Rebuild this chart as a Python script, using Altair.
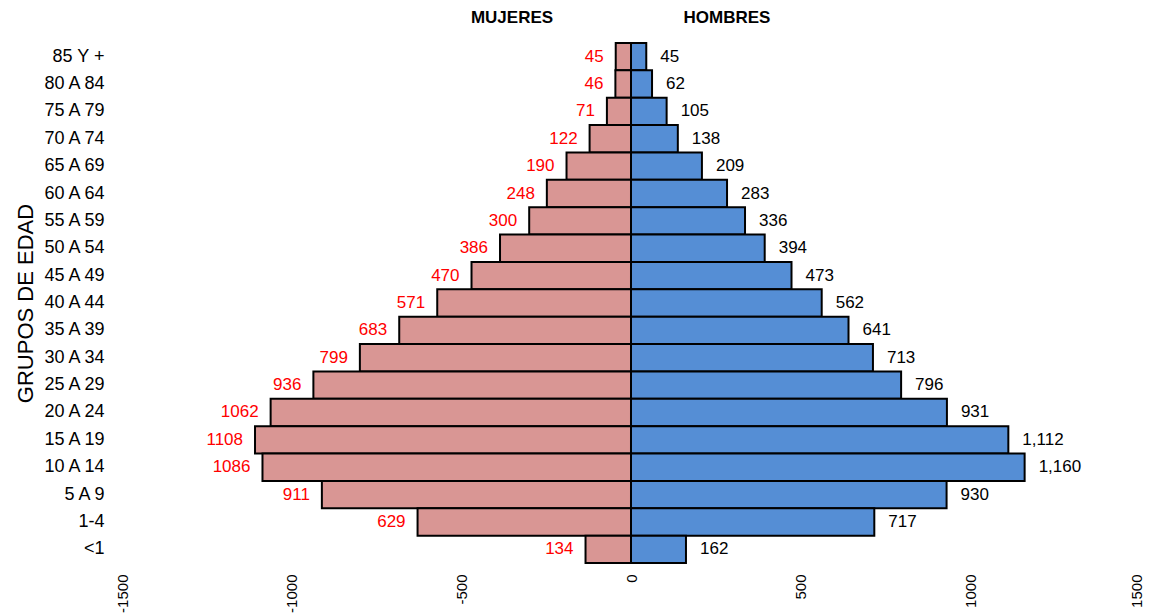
import altair as alt
import pandas as pd

groups = ["85 Y +", "80 A 84", "75 A 79", "70 A 74", "65 A 69", "60 A 64", "55 A 59",
          "50 A 54", "45 A 49", "40 A 44", "35 A 39", "30 A 34", "25 A 29", "20 A 24",
          "15 A 19", "10 A 14", "5 A 9", "1-4", "<1"]
mujeres = [45, 46, 71, 122, 190, 248, 300, 386, 470, 571, 683, 799, 936, 1062,
           1108, 1086, 911, 629, 134]
hombres = [45, 62, 105, 138, 209, 283, 336, 394, 473, 562, 641, 713, 796, 931,
           1112, 1160, 930, 717, 162]
x_ticks = [-1500, -1000, -500, 0, 500, 1000, 1500]

rows = []
for g, m, h in zip(groups, mujeres, hombres):
    rows.append({"grupo": g, "sexo": "MUJERES", "valor": m, "pos": -m})
    rows.append({"grupo": g, "sexo": "HOMBRES", "valor": h, "pos": h})
df = pd.DataFrame(rows)

FONT = "Liberation Sans"

xscale = alt.Scale(domain=[-1500, 1500], nice=False, zero=False)
yscale = alt.Scale(domain=groups, paddingInner=0, paddingOuter=0)

x_axis = alt.Axis(values=x_ticks, labelAngle=-90, ticks=False, tickSize=0,
                  domain=False, grid=False, labelFontSize=15, labelFont=FONT,
                  labelColor="black", labelPadding=11,
                  labelOffset={"condition": {"test": "datum.value == 1500", "value": -4},
                               "value": 0},
                  labelExpr="datum.value + ''", title=None)
y_axis = alt.Axis(title="GRUPOS DE EDAD", ticks=False, tickSize=0, domain=False,
                  grid=False, labelFontSize=18, labelFont=FONT, labelColor="black",
                  labelPadding=18, titleFontSize=22, titleFont=FONT,
                  titleFontWeight="normal", titleColor="black", titlePadding=4)

base = alt.Chart(df)

bars = base.mark_bar(stroke="black", strokeWidth=2).encode(
    x=alt.X("pos:Q", scale=xscale, axis=x_axis),
    y=alt.Y("grupo:N", scale=yscale, sort=groups, axis=y_axis),
    color=alt.Color("sexo:N",
                    scale=alt.Scale(domain=["MUJERES", "HOMBRES"],
                                    range=["#D99694", "#558ED5"]),
                    legend=None),
)

txt_m = base.transform_filter(alt.datum.sexo == "MUJERES").mark_text(
    align="right", baseline="middle", dx=-12, color="#FF0000", fontSize=17, font=FONT
).encode(
    x=alt.X("pos:Q", scale=xscale, axis=x_axis),
    y=alt.Y("grupo:N", scale=yscale, sort=groups, axis=y_axis),
    text=alt.Text("valor:Q", format="d"),
)

txt_h = base.transform_filter(alt.datum.sexo == "HOMBRES").mark_text(
    align="left", baseline="middle", dx=14, color="black", fontSize=17, font=FONT
).encode(
    x=alt.X("pos:Q", scale=xscale, axis=x_axis),
    y=alt.Y("grupo:N", scale=yscale, sort=groups, axis=y_axis),
    text=alt.Text("valor:Q", format=","),
)

headers = pd.DataFrame({"label": ["MUJERES", "HOMBRES"]})
head_m = alt.Chart(headers).transform_filter(alt.datum.label == "MUJERES").mark_text(
    fontWeight="bold", fontSize=17, font=FONT, color="black", baseline="middle"
).encode(text="label:N", x=alt.value(390), y=alt.value(-25))
head_h = alt.Chart(headers).transform_filter(alt.datum.label == "HOMBRES").mark_text(
    fontWeight="bold", fontSize=17, font=FONT, color="black", baseline="middle"
).encode(text="label:N", x=alt.value(605), y=alt.value(-25))

chart = alt.layer(bars, txt_m, txt_h, head_m, head_h).properties(
    width=1018, height=520,
    background="white",
    autosize=alt.AutoSizeParams(type="none"),
    padding={"left": 114, "top": 35, "right": 3, "bottom": 52},
).configure_view(stroke=None, strokeWidth=0).configure_axis(grid=False)

chart.save("out.html", embed_options={"renderer": "svg", "actions": False})
